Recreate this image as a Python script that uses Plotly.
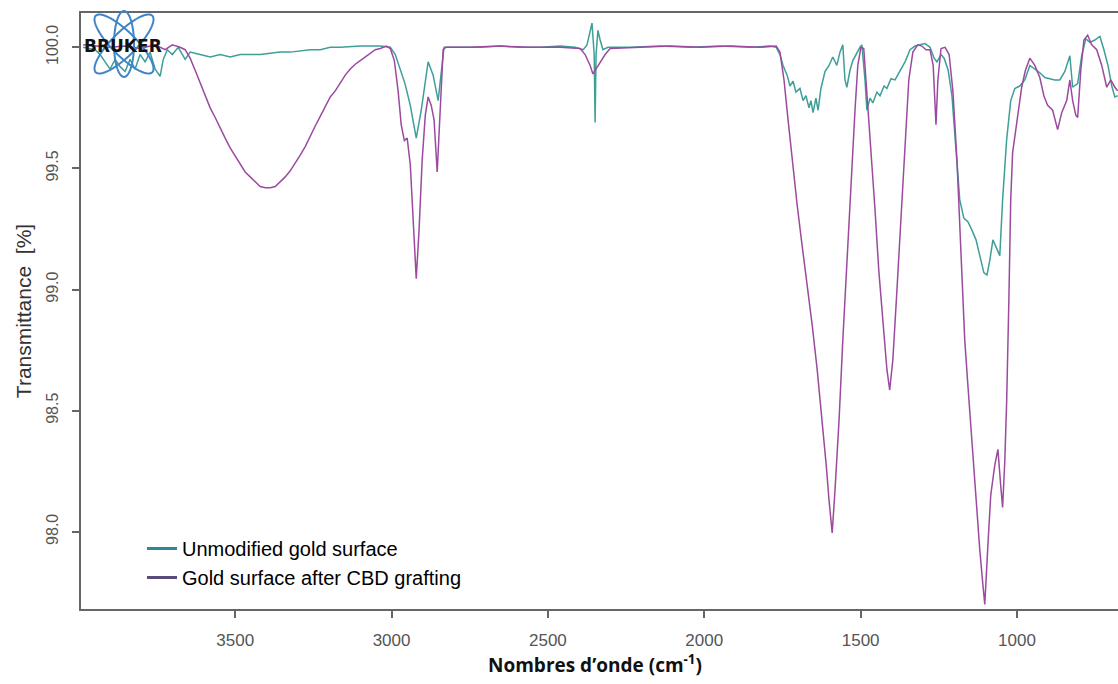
import numpy as np
import plotly.graph_objects as go

# ---------------- data ----------------
wn_unmod = [3986, 3948, 3932, 3916, 3900, 3884, 3868, 3852, 3836, 3820,
            3804, 3788, 3772, 3756, 3740, 3730, 3717, 3701, 3682, 3660,
            3644, 3612, 3580, 3548, 3516, 3484, 3452, 3420, 3388, 3356,
            3324, 3292, 3260, 3228, 3196, 3164, 3100, 3036, 3004,
            2988, 2972, 2957, 2940, 2921, 2905, 2883, 2867, 2851, 2842, 2832,
            2781, 2717, 2653, 2589, 2525, 2461, 2413, 2387, 2375, 2365,
            2359, 2352, 2349, 2346, 2340, 2333, 2324, 2308,
            2237, 2141, 2045, 1949, 1854, 1790, 1770, 1758, 1748, 1735,
            1726, 1716, 1707, 1694, 1684, 1675, 1665, 1659, 1652, 1643,
            1636, 1627, 1614, 1601, 1589, 1576, 1566, 1557, 1550, 1544,
            1534, 1525, 1512, 1502, 1496, 1486, 1480, 1470, 1461, 1448,
            1438, 1425, 1416, 1403, 1390, 1374, 1358, 1342, 1326, 1310,
            1294, 1278, 1265, 1256, 1243, 1233, 1220, 1208, 1195, 1183,
            1170, 1157, 1144, 1131, 1119, 1106, 1096, 1087, 1077, 1068,
            1055, 1046, 1033, 1020, 1007, 991, 975, 959, 943, 927,
            911, 895, 879, 863, 847, 831, 822, 806, 793, 780,
            767, 751, 735, 722, 709, 697, 687, 678]
t_unmod = [100.00, 99.99, 99.97, 99.94, 99.91, 99.95, 99.92, 99.90, 99.95, 99.91,
           99.97, 99.94, 99.98, 99.91, 99.88, 99.95, 99.99, 99.97, 100.00, 99.95,
           99.98, 99.97, 99.96, 99.97, 99.96, 99.97, 99.97, 99.97, 99.975, 99.98,
           99.98, 99.985, 99.99, 99.99, 100.00, 100.00, 100.005, 100.005, 100.00,
           99.97, 99.905, 99.85, 99.76, 99.625, 99.74, 99.94, 99.885, 99.78, 99.885, 100.00,
           100.00, 100.00, 100.005, 100.00, 100.00, 100.005, 100.00, 99.99, 100.01, 100.07,
           100.10, 99.97, 99.69, 99.97, 100.07, 100.03, 99.99, 100.00,
           100.00, 100.005, 100.00, 100.005, 100.00, 100.005, 100.00, 99.97, 99.925, 99.885,
           99.84, 99.86, 99.815, 99.83, 99.78, 99.80, 99.75, 99.78, 99.73, 99.79,
           99.74, 99.83, 99.90, 99.925, 99.96, 99.925, 99.98, 100.01, 99.865, 99.835,
           99.905, 99.945, 99.98, 100.00, 100.01, 99.865, 99.74, 99.79, 99.77, 99.815,
           99.80, 99.84, 99.83, 99.87, 99.865, 99.905, 99.94, 99.99, 100.005, 100.01,
           100.015, 100.00, 99.955, 99.94, 99.97, 99.955, 99.905, 99.80, 99.575, 99.37,
           99.295, 99.28, 99.245, 99.205, 99.14, 99.07, 99.06, 99.12, 99.205, 99.18,
           99.14, 99.37, 99.62, 99.78, 99.83, 99.84, 99.865, 99.925, 99.91, 99.895,
           99.875, 99.87, 99.865, 99.865, 99.90, 99.965, 99.835, 99.85, 99.965, 100.035,
           100.02, 100.03, 100.045, 99.99, 99.925, 99.84, 99.795, 99.80]

wn_cbd = [3986, 3948, 3900, 3852, 3804, 3756, 3724, 3701, 3676, 3660,
          3644, 3628, 3612, 3596, 3580, 3564, 3548, 3532, 3516, 3500,
          3484, 3468, 3452, 3436, 3420, 3404, 3388, 3372, 3356, 3340,
          3324, 3308, 3292, 3276, 3260, 3244, 3228, 3212, 3196, 3180,
          3164, 3148, 3132, 3116, 3100, 3084, 3068, 3052, 3036, 3017,
          3004, 2991, 2979, 2969, 2959, 2950, 2940, 2931, 2921, 2912,
          2902, 2892, 2883, 2873, 2864, 2854, 2845, 2835, 2826, 2749,
          2653, 2557, 2461, 2397, 2381, 2365, 2356, 2346, 2333, 2317,
          2301, 2205, 2109, 2013, 1917, 1822, 1770, 1758, 1745, 1732,
          1719, 1703, 1687, 1671, 1655, 1639, 1623, 1610, 1601, 1591,
          1582, 1569, 1557, 1544, 1531, 1518, 1509, 1499, 1490, 1480,
          1467, 1454, 1442, 1429, 1416, 1407, 1397, 1384, 1371, 1358,
          1346, 1333, 1317, 1304, 1291, 1278, 1268, 1259, 1253, 1243,
          1230, 1217, 1205, 1192, 1179, 1167, 1157, 1144, 1131, 1119,
          1109, 1103, 1093, 1084, 1071, 1061, 1052, 1046, 1039, 1033,
          1026, 1020, 1014, 1004, 995, 985, 973, 959, 943, 927,
          914, 902, 886, 870, 857, 841, 831, 822, 812, 806,
          796, 786, 774, 761, 745, 729, 713, 700, 687, 678]
t_cbd = [100.01, 100.005, 100.0, 100.005, 99.995, 100.01, 99.99, 100.01, 100.0, 99.99,
         99.955, 99.905, 99.855, 99.80, 99.75, 99.71, 99.665, 99.625, 99.585, 99.55,
         99.515, 99.485, 99.465, 99.445, 99.425, 99.42, 99.42, 99.425, 99.445, 99.465,
         99.49, 99.52, 99.555, 99.59, 99.635, 99.675, 99.715, 99.755, 99.795, 99.82,
         99.855, 99.885, 99.91, 99.93, 99.945, 99.96, 99.975, 99.99, 99.995, 100.005,
         99.995, 99.945, 99.82, 99.68, 99.615, 99.625, 99.515, 99.285, 99.045, 99.245,
         99.535, 99.72, 99.795, 99.76, 99.70, 99.485, 99.74, 99.99, 100.0, 100.0,
         100.005, 100.0, 100.0, 99.995, 99.97, 99.925, 99.89, 99.91, 99.94, 99.97,
         99.995, 100.0, 100.005, 100.0, 100.005, 100.0, 100.005, 99.98, 99.865, 99.70,
         99.535, 99.35, 99.18, 99.02, 98.855, 98.67, 98.46, 98.275, 98.13, 97.995,
         98.17, 98.46, 98.79, 99.12, 99.45, 99.74, 99.925, 100.0, 99.995, 99.82,
         99.575, 99.33, 99.08, 98.855, 98.67, 98.585, 98.71, 98.995, 99.31, 99.615,
         99.865, 99.98, 100.01, 100.005, 99.99, 99.99, 99.925, 99.68, 99.865, 99.995,
         100.0, 99.97, 99.82, 99.535, 99.165, 98.79, 98.605, 98.36, 98.13, 97.925,
         97.78, 97.70, 97.945, 98.15, 98.275, 98.34, 98.19, 98.10, 98.29, 98.54,
         98.955, 99.37, 99.565, 99.66, 99.74, 99.835, 99.905, 99.955, 99.925, 99.875,
         99.80, 99.76, 99.74, 99.66, 99.73, 99.78, 99.865, 99.78, 99.72, 99.71,
         99.905, 100.03, 100.05, 100.01, 99.99, 99.925, 99.835, 99.865, 99.835, 99.82]

series_names = ["Unmodified gold surface", "Gold surface after CBD grafting"]
x_tick_vals = [3500, 3000, 2500, 2000, 1500, 1000]
y_tick_vals = [98.0, 98.5, 99.0, 99.5, 100.0]
y_tick_text = ["98.0", "98.5", "99.0", "99.5", "100.0"]

assert len(wn_unmod) == len(t_unmod), (len(wn_unmod), len(t_unmod))
assert len(wn_cbd) == len(t_cbd), (len(wn_cbd), len(t_cbd))

# ---------------- figure ----------------
W, H = 1118, 684
ML, MR, MT, MB = 81, 0, 13, 75
PW, PH = W - ML - MR, H - MT - MB

line_teal = "#3d9f98"
line_purple = "#9b4a9f"
leg_teal = "#2b8a98"
leg_purple = "#5a4c7a"

fig = go.Figure()
fig.add_trace(go.Scatter(x=wn_unmod, y=t_unmod, mode="lines",
                         line=dict(color=line_teal, width=1.5),
                         showlegend=False, name=series_names[0]))
fig.add_trace(go.Scatter(x=wn_cbd, y=t_cbd, mode="lines",
                         line=dict(color=line_purple, width=1.5),
                         showlegend=False, name=series_names[1]))
# legend entries (legend swatches are darker than the curves in the original)
fig.add_trace(go.Scatter(x=[None], y=[None], mode="lines",
                         line=dict(color=leg_teal, width=3), name=series_names[0]))
fig.add_trace(go.Scatter(x=[None], y=[None], mode="lines",
                         line=dict(color=leg_purple, width=3), name=series_names[1]))


def px2paper(px, py):
    return (px - ML) / PW, (H - MB - py) / PH


# Bruker logo (decoration): two tilted ellipses + a vertical one
shapes = []
cx, cy = 124, 44
for ang, a, b in [(45, 40, 12), (-45, 40, 12), (90, 33, 10)]:
    th = np.radians(ang)
    tt = np.linspace(0, 2 * np.pi, 60)
    ex = cx + a * np.cos(tt) * np.cos(th) - b * np.sin(tt) * np.sin(th)
    ey = cy + a * np.cos(tt) * np.sin(th) + b * np.sin(tt) * np.cos(th)
    pts = [px2paper(u, v) for u, v in zip(ex, ey)]
    path = "M" + " L".join(f"{p[0]:.5f},{p[1]:.5f}" for p in pts) + " Z"
    shapes.append(dict(type="path", xref="paper", yref="paper", path=path,
                       line=dict(color="#3f86c8", width=2), layer="above"))

bx, by = px2paper(123, 46)
tx, ty = px2paper(595, 664)
annotations = [
    dict(text="<b>BRUKER</b>", x=bx, y=by, xref="paper", yref="paper",
         showarrow=False, xanchor="center", yanchor="middle",
         font=dict(family="DejaVu Sans", size=17, color="#111111")),
    dict(text="<b>Nombres d’onde (cm<sup>-1</sup>)</b>", x=tx, y=ty,
         xref="paper", yref="paper", showarrow=False,
         xanchor="center", yanchor="middle",
         font=dict(family="Open Sans", size=19, color="#111111")),
]

lx, ly = px2paper(142, 529)

fig.update_layout(
    width=W, height=H,
    margin=dict(l=ML, r=MR, t=MT, b=MB, pad=0),
    plot_bgcolor="white", paper_bgcolor="white",
    font=dict(family="Liberation Sans, Arial", color="#555555"),
    shapes=shapes, annotations=annotations,
    legend=dict(x=lx, y=ly, xanchor="left", yanchor="top",
                font=dict(family="Liberation Sans, Arial", size=20, color="#000000"),
                bgcolor="rgba(0,0,0,0)", borderwidth=0),
    xaxis=dict(range=[3993, 677], showline=True, linecolor="#666666", linewidth=1.5,
               mirror=True, ticks="outside", ticklen=7, tickwidth=1.5, tickcolor="#666666",
               tickvals=x_tick_vals, tickfont=dict(size=17, color="#555555"),
               ticklabelstandoff=8, showgrid=False, zeroline=False),
    yaxis=dict(range=[97.681, 100.1415], showline=True, linecolor="#666666", linewidth=1.5,
               mirror=False, ticks="outside", ticklen=7, tickwidth=1.5, tickcolor="#666666",
               tickvals=y_tick_vals, ticktext=y_tick_text, tickangle=-90,
               tickfont=dict(size=16, color="#555555"), ticklabelstandoff=8,
               showgrid=False, zeroline=False,
               title=dict(text="Transmittance  [%]",
                          font=dict(size=21, color="#333333"), standoff=6)),
)

fig.write_html("out.html")
